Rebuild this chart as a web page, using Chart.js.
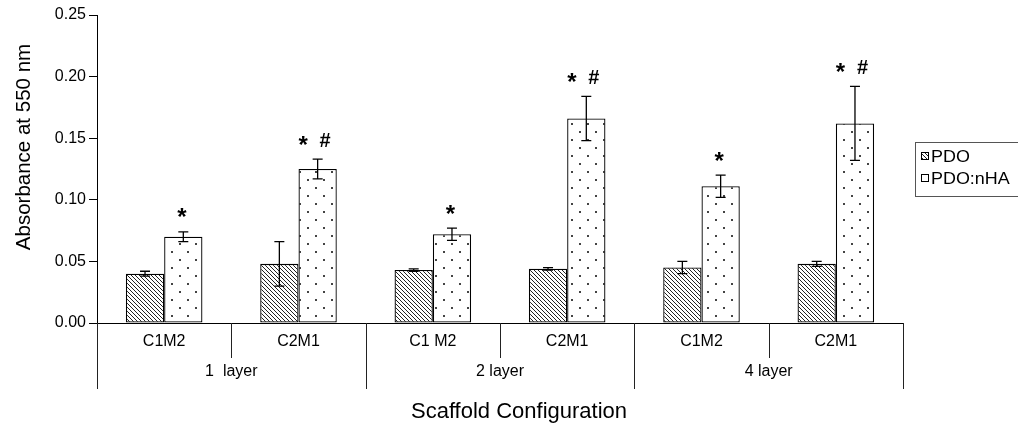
<!DOCTYPE html>
<html>
<head>
<meta charset="utf-8">
<script src="https://cdn.jsdelivr.net/npm/chart.js@4.4.1/dist/chart.umd.min.js"></script>
<style>
  html, body { margin: 0; padding: 0; background: #fff; }
  #wrap { width: 1018px; height: 437px; position: relative; }
</style>
</head>
<body>
<div id="wrap"><canvas id="chart"></canvas></div>
<script>
const configs = ['C1M2', 'C2M1', 'C1 M2', 'C2M1', 'C1M2', 'C2M1'];
const layers = ['1  layer', '2 layer', '4 layer'];
const seriesNames = ['PDO', 'PDO:nHA'];
const pdo = [0.040, 0.048, 0.043, 0.044, 0.045, 0.048];
const pdoErr = [0.002, 0.018, 0.001, 0.001, 0.005, 0.002];
const nha = [0.070, 0.125, 0.072, 0.166, 0.111, 0.162];
const nhaErr = [0.004, 0.008, 0.005, 0.018, 0.009, 0.030];
const nhaMarks = ['*', '* #', '*', '* #', '*', '* #'];
const yTicks = [0, 0.05, 0.10, 0.15, 0.20, 0.25];
const yTitle = 'Absorbance at 550 nm';
const xTitle = 'Scaffold Configuration';

const FONT = "'Liberation Sans', Arial, sans-serif";
Chart.defaults.font.family = FONT;
Chart.defaults.color = '#000';

// diagonal hatch for PDO
function hatchPattern() {
  const c = document.createElement('canvas');
  c.width = 4; c.height = 4;
  const g = c.getContext('2d');
  g.fillStyle = '#fff';
  g.fillRect(0, 0, 4, 4);
  g.strokeStyle = '#222';
  g.lineWidth = 1;
  g.beginPath();
  g.moveTo(-1, -1); g.lineTo(5, 5);
  g.moveTo(-1, 3); g.lineTo(1, 5);
  g.moveTo(3, -1); g.lineTo(5, 1);
  g.stroke();
  return g.createPattern(c, 'repeat');
}

// sparse staggered dots for PDO:nHA
function dotPattern() {
  const c = document.createElement('canvas');
  c.width = 16; c.height = 16;
  const g = c.getContext('2d');
  g.fillStyle = '#fff';
  g.fillRect(0, 0, 16, 16);
  g.fillStyle = '#444';
  g.fillRect(3, 3, 2, 2);
  g.fillRect(11, 11, 2, 2);
  return g.createPattern(c, 'repeat');
}

const hatch = hatchPattern();
const dots = dotPattern();
const errors = [pdoErr, nhaErr];

const extras = {
  id: 'extras',
  afterDatasetsDraw(chart) {
    const ctx = chart.ctx;
    const y = chart.scales.y;
    ctx.save();
    ctx.strokeStyle = '#000';
    ctx.lineWidth = 1.3;
    chart.data.datasets.forEach((ds, d) => {
      chart.getDatasetMeta(d).data.forEach((bar, i) => {
        const v = ds.data[i], e = errors[d][i];
        const top = y.getPixelForValue(v + e);
        const bot = y.getPixelForValue(v - e);
        ctx.beginPath();
        ctx.moveTo(bar.x, top); ctx.lineTo(bar.x, bot);
        ctx.moveTo(bar.x - 5, top); ctx.lineTo(bar.x + 5, top);
        ctx.moveTo(bar.x - 5, bot); ctx.lineTo(bar.x + 5, bot);
        ctx.stroke();
      });
    });

    // significance marks above the PDO:nHA bars
    ctx.fillStyle = '#000';
    ctx.textAlign = 'center';
    ctx.textBaseline = 'alphabetic';
    const drawGlyph = (ch, x, cy, size) => {
      ctx.font = 'bold ' + size + 'px ' + FONT;
      const m = ctx.measureText(ch);
      ctx.fillText(ch, x, cy + (m.actualBoundingBoxAscent - m.actualBoundingBoxDescent) / 2);
    };
    chart.getDatasetMeta(1).data.forEach((bar, i) => {
      const cy = y.getPixelForValue(nha[i] + nhaErr[i]) - 19;
      if (nhaMarks[i].includes('#')) {
        drawGlyph('*', bar.x - 14.5, cy, 24);
        drawGlyph('#', bar.x + 7.5, cy, 20);
      } else {
        drawGlyph('*', bar.x - 1.5, cy, 24);
      }
    });
    ctx.restore();
  },
  afterDraw(chart) {
    const ctx = chart.ctx;
    const x = chart.scales.x;
    const area = chart.chartArea;
    const base = area.bottom;
    const w = x.getPixelForValue(1) - x.getPixelForValue(0);
    const edge = i => x.getPixelForValue(i) - w / 2;
    ctx.save();
    ctx.strokeStyle = '#222';
    ctx.lineWidth = 1;
    ctx.beginPath();
    for (let i = 0; i <= configs.length; i++) {
      const px = Math.round(edge(i)) + 0.5;
      ctx.moveTo(px, base);
      ctx.lineTo(px, base + (i % 2 === 0 ? 66 : 35));
    }
    ctx.stroke();

    ctx.fillStyle = '#000';
    ctx.textAlign = 'center';
    ctx.textBaseline = 'middle';
    ctx.font = '16px ' + FONT;
    configs.forEach((c, i) => ctx.fillText(c, x.getPixelForValue(i), base + 19));
    layers.forEach((l, k) => ctx.fillText(l, (edge(2 * k) + edge(2 * k + 2)) / 2, base + 49));

    // axis titles
    ctx.font = '22px ' + FONT;
    ctx.fillText(xTitle, 519, 412);
    ctx.save();
    ctx.translate(24, 147);
    ctx.rotate(-Math.PI / 2);
    ctx.font = '20.5px ' + FONT;
    ctx.fillText(yTitle, 0, 0);
    ctx.restore();

    // legend box, runs off the right edge
    ctx.strokeStyle = '#555';
    ctx.strokeRect(915.5, 142.5, 120, 54);
    ctx.strokeStyle = '#000';
    ctx.fillStyle = hatch;
    ctx.fillRect(921, 152, 7, 7);
    ctx.strokeRect(921.5, 152.5, 7, 7);
    ctx.fillStyle = '#fff';
    ctx.fillRect(921, 174, 7, 7);
    ctx.strokeRect(921.5, 174.5, 7, 7);
    ctx.fillStyle = '#000';
    ctx.textAlign = 'left';
    ctx.textBaseline = 'alphabetic';
    ctx.font = '16px ' + FONT;
    [162, 184].forEach((by, k) => {
      ctx.save();
      ctx.translate(931, by);
      ctx.scale(1.12, 1);
      ctx.fillText(seriesNames[k], 0, 0);
      ctx.restore();
    });
    ctx.restore();
  }
};

new Chart(document.getElementById('chart'), {
  type: 'bar',
  data: {
    labels: configs,
    datasets: [
      { label: seriesNames[0], data: pdo, backgroundColor: hatch, borderColor: '#000', borderWidth: 1.3, borderSkipped: false },
      { label: seriesNames[1], data: nha, backgroundColor: dots, borderColor: '#000', borderWidth: 1.3, borderSkipped: false }
    ]
  },
  options: {
    responsive: true,
    maintainAspectRatio: false,
    animation: false,
    categoryPercentage: 0.57,
    barPercentage: 1,
    layout: { padding: { top: 15, right: 115, bottom: 0, left: 0 } },
    plugins: { legend: { display: false }, tooltip: { enabled: false } },
    scales: {
      x: {
        grid: { display: false },
        border: { color: '#000', width: 1 },
        ticks: { display: false },
        afterFit: s => { s.height = 114; }
      },
      y: {
        min: 0,
        max: 0.25,
        afterBuildTicks: s => { s.ticks = yTicks.map(v => ({ value: v })); },
        ticks: { font: { size: 16 }, padding: 3, callback: v => v.toFixed(2) },
        grid: { drawOnChartArea: false, color: '#000', tickLength: 8 },
        border: { color: '#000', width: 1 },
        afterFit: s => { s.width = 97; }
      }
    }
  },
  plugins: [extras]
});
</script>
</body>
</html>
